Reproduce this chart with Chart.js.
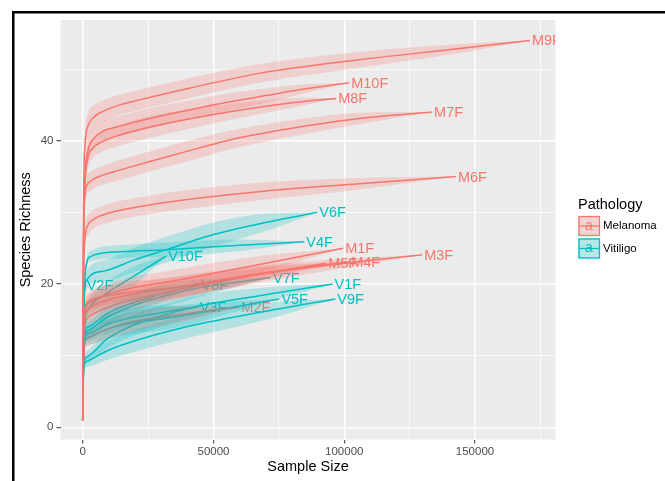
<!DOCTYPE html>
<html>
<head>
<meta charset="utf-8">
<script src="https://cdn.jsdelivr.net/npm/chart.js@4"></script>
<style>
  body { margin: 0; background: #fff; }
  canvas { display: block; }
</style>
</head>
<body>
<canvas id="chart" width="665" height="481"></canvas>
<script>
// rarefaction curves, values
const curveNames = ['M1F', 'M2F', 'M3F', 'M4F', 'M5F', 'M6F', 'M7F', 'M8F', 'M9F', 'M10F',
                    'V1F', 'V2F', 'V3F', 'V4F', 'V5F', 'V6F', 'V7F', 'V8F', 'V9F', 'V10F'];
const curveGroup = ['Melanoma', 'Melanoma', 'Melanoma', 'Melanoma', 'Melanoma',
                    'Melanoma', 'Melanoma', 'Melanoma', 'Melanoma', 'Melanoma',
                    'Vitiligo', 'Vitiligo', 'Vitiligo', 'Vitiligo', 'Vitiligo',
                    'Vitiligo', 'Vitiligo', 'Vitiligo', 'Vitiligo', 'Vitiligo'];

// sample sizes
const curveX = [
    [0, 500, 2000, 10000, 37000, 70000, 99600],
    [0, 500, 2000, 14100, 40000, 59900],
    [0, 500, 2000, 10000, 37000, 80000, 129800],
    [0, 500, 2000, 10000, 37000, 70000, 101900],
    [0, 500, 2000, 10000, 37000, 70000, 93100],
    [0, 300, 900, 2000, 4000, 10000, 25000, 44700, 70100, 105700, 142700],
    [0, 300, 900, 2000, 4000, 7700, 14100, 26700, 44700, 57400, 70100, 82800, 105700, 133600],
    [0, 300, 900, 2000, 4000, 7700, 14100, 26700, 44700, 57400, 70100, 82800, 96900],
    [0, 300, 900, 2000, 4600, 7800, 14100, 20500, 33300, 67500, 105700, 140000, 171000],
    [0, 300, 900, 2000, 4000, 7700, 14000, 26700, 44700, 57400, 70100, 82800, 101900],
    [0, 300, 1500, 10000, 37000, 70000, 95500],
    [0, 200, 760],
    [0, 500, 2000, 10000, 30000, 44000],
    [0, 500, 1500, 2700, 14100, 32000, 60000, 84700],
    [0, 500, 2000, 10000, 37000, 75200],
    [0, 300, 1400, 8000, 20000, 32000, 50000, 70000, 89700],
    [0, 500, 2000, 10000, 37000, 72000],
    [0, 500, 2000, 10000, 30000, 44700],
    [0, 300, 1500, 10000, 37000, 70000, 96600],
    [0, 300, 1900, 8000, 20000, 31900]
];
// species richness
const curveY = [
    [1, 15, 17.2, 18.6, 20.6, 22.9, 25.0],
    [1, 11, 12.5, 14.3, 15.9, 16.8],
    [1, 14, 16.5, 17.8, 19.6, 22.0, 24.1],
    [1, 15, 17.5, 18.4, 19.6, 21.6, 23.1],
    [1, 13, 15.3, 16.8, 19.2, 21.5, 22.9],
    [1, 20, 26.5, 28.2, 29.0, 29.9, 31.0, 32.0, 33.0, 34.0, 35.0],
    [1, 25, 32.5, 34.0, 34.6, 35.2, 35.9, 37.2, 39.0, 40.2, 41.1, 41.9, 43.1, 44.0],
    [1, 25, 34, 37.6, 39.0, 39.9, 40.8, 42.0, 43.3, 44.1, 44.8, 45.4, 45.9],
    [1, 30, 39.5, 42.0, 43.4, 44.1, 45.0, 45.6, 46.7, 49.4, 51.3, 52.7, 54.0],
    [1, 25, 35, 38.6, 40.2, 41.3, 42.0, 43.2, 44.6, 45.5, 46.3, 47.1, 48.1],
    [1, 8.5, 9.8, 12.5, 16.3, 18.5, 20.0],
    [1, 15, 19.9],
    [1, 12, 13, 14.5, 16.0, 16.8],
    [1, 17, 22.9, 23.8, 24.5, 24.8, 25.4, 25.9],
    [1, 11.5, 12.5, 13.8, 15.5, 17.9],
    [1, 15, 20.5, 21.8, 23.4, 24.8, 26.9, 28.6, 30.0],
    [1, 12, 13.5, 15.5, 18.9, 20.9],
    [1, 12.5, 14, 16, 18.6, 19.9],
    [1, 8, 9.2, 10.8, 13.8, 16.2, 17.9],
    [1, 12, 16.4, 18.4, 21.2, 23.9]
];
// half width of the confidence band
const curveCI = [
    [0, 0.8, 1.2, 1.4, 1.5, 1.1, 0],
    [0, 0.8, 1.1, 1.4, 1.0, 0],
    [0, 0.8, 1.2, 1.4, 1.5, 1.0, 0],
    [0, 0.8, 1.2, 1.4, 1.4, 0.9, 0],
    [0, 0.8, 1.2, 1.4, 1.3, 0.8, 0],
    [0, 0.6, 1.2, 1.4, 1.3, 1.3, 1.3, 1.3, 1.2, 0.8, 0],
    [0, 0.6, 1.2, 1.4, 1.3, 1.3, 1.4, 1.4, 1.4, 1.3, 1.2, 1.1, 0.8, 0],
    [0, 0.6, 1.2, 1.5, 1.4, 1.4, 1.5, 1.5, 1.3, 1.1, 0.9, 0.6, 0],
    [0, 0.6, 1.5, 1.8, 1.6, 1.5, 1.4, 1.4, 1.4, 1.3, 1.1, 0.7, 0],
    [0, 0.6, 1.2, 1.5, 1.4, 1.4, 1.4, 1.4, 1.3, 1.2, 1.0, 0.7, 0],
    [0, 0.5, 0.8, 1.3, 1.5, 1.0, 0],
    [0, 0.5, 0],
    [0, 0.8, 1.0, 1.3, 1.0, 0],
    [0, 0.5, 0.6, 0.7, 0.9, 1.0, 0.8, 0],
    [0, 0.8, 1.0, 1.4, 1.5, 0],
    [0, 0.6, 1.2, 1.5, 1.7, 1.8, 1.7, 1.2, 0],
    [0, 0.8, 1.1, 1.4, 1.5, 0],
    [0, 0.8, 1.1, 1.4, 1.1, 0],
    [0, 0.5, 0.8, 1.3, 1.6, 1.2, 0],
    [0, 0.6, 1.2, 1.5, 1.3, 0]
];

const groups = ['Melanoma', 'Vitiligo'];
const lineColors = ['#F8766D', '#00BFC4'];
const bandColors = ['rgba(248,118,109,0.24)', 'rgba(0,191,196,0.24)'];

const xMajor = [0, 50000, 100000, 150000];
const xTickLabels = ['0', '50000', '100000', '150000'];
const xMinor = [25000, 75000, 125000, 175000];
const yMajor = [0, 20, 40];
const yTickLabels = ['0', '20', '40'];
const yMinor = [10, 30, 50];

const fontFam = '"Liberation Sans", Arial, Helvetica, sans-serif';

let datasets = [];

// lines first in the list, drawn under the bands
for (let i = 0; i < curveNames.length; i++) {
    let g = groups.indexOf(curveGroup[i]);
    datasets.push({
        label: curveNames[i],
        data: curveX[i].map((x, j) => ({x: x, y: curveY[i][j]})),
        borderColor: lineColors[g],
        borderWidth: 1.5,
        pointRadius: 0,
        fill: false,
        cubicInterpolationMode: 'monotone',
        order: 2
    });
}
for (let i = 0; i < curveNames.length; i++) {
    let g = groups.indexOf(curveGroup[i]);
    let lowIdx = datasets.length;
    datasets.push({
        label: curveNames[i] + ' lwr',
        data: curveX[i].map((x, j) => ({x: x, y: curveY[i][j] - curveCI[i][j]})),
        borderColor: 'rgba(0,0,0,0)',
        borderWidth: 0,
        pointRadius: 0,
        fill: false,
        cubicInterpolationMode: 'monotone',
        order: 1
    });
    datasets.push({
        label: curveNames[i] + ' upr',
        data: curveX[i].map((x, j) => ({x: x, y: curveY[i][j] + curveCI[i][j]})),
        borderColor: 'rgba(0,0,0,0)',
        borderWidth: 0,
        pointRadius: 0,
        fill: lowIdx,
        backgroundColor: bandColors[g],
        cubicInterpolationMode: 'monotone',
        order: 1
    });
}

const panelBg = {
    id: 'panelBg',
    beforeDraw(chart) {
        const a = chart.chartArea;
        const ctx = chart.ctx;
        ctx.save();
        ctx.fillStyle = '#EBEBEB';
        ctx.fillRect(a.left, a.top, a.right - a.left, a.bottom - a.top);
        ctx.restore();
    }
};

const endLabels = {
    id: 'endLabels',
    beforeDatasetsDraw(chart) {
        const a = chart.chartArea;
        const ctx = chart.ctx;
        const xs = chart.scales.x, ys = chart.scales.y;
        ctx.save();
        ctx.beginPath();
        ctx.rect(a.left, a.top, a.right - a.left, a.bottom - a.top);
        ctx.clip();
        ctx.font = '14.5px ' + fontFam;
        ctx.textBaseline = 'middle';
        ctx.textAlign = 'left';
        for (let i = 0; i < curveNames.length; i++) {
            let n = curveX[i].length - 1;
            let g = groups.indexOf(curveGroup[i]);
            ctx.fillStyle = lineColors[g];
            ctx.fillText(curveNames[i], xs.getPixelForValue(curveX[i][n]) + 2, ys.getPixelForValue(curveY[i][n]) + 1);
        }
        ctx.restore();
    }
};

const legendAndFrame = {
    id: 'legendAndFrame',
    afterDraw(chart) {
        const ctx = chart.ctx;
        ctx.save();
        ctx.fillStyle = '#000';
        ctx.font = '14.5px ' + fontFam;
        ctx.textBaseline = 'middle';
        ctx.fillText('Pathology', 578, 205);
        for (let g = 0; g < groups.length; g++) {
            let top = 216 + g * 22.5;
            ctx.fillStyle = '#F2F2F2';
            ctx.fillRect(578, top, 22, 20);
            ctx.fillStyle = bandColors[g];
            ctx.fillRect(578, top, 22, 20);
            ctx.strokeStyle = lineColors[g];
            ctx.lineWidth = 1.3;
            ctx.strokeRect(579, top + 0.5, 20.5, 19);
            ctx.beginPath();
            ctx.moveTo(579, top + 10);
            ctx.lineTo(599.5, top + 10);
            ctx.stroke();
            ctx.fillStyle = lineColors[g];
            ctx.font = '14px ' + fontFam;
            ctx.textAlign = 'center';
            ctx.fillText('a', 589, top + 10);
            ctx.textAlign = 'left';
            ctx.fillStyle = '#000';
            ctx.font = '11.5px ' + fontFam;
            ctx.fillText(groups[g], 603, top + 10);
        }
        // black frame on top and left
        ctx.fillStyle = '#000';
        ctx.fillRect(12, 11, 653, 2.5);
        ctx.fillRect(12, 11, 2.5, 470);
        ctx.restore();
    }
};

new Chart(document.getElementById('chart'), {
    type: 'line',
    data: {datasets: datasets},
    options: {
        responsive: false,
        animation: false,
        devicePixelRatio: 1,
        layout: {padding: {left: 0, right: 109.5, top: 20, bottom: 0}},
        plugins: {
            legend: {display: false},
            tooltip: {enabled: false},
            filler: {drawTime: 'beforeDatasetDraw'}
        },
        scales: {
            x: {
                type: 'linear',
                min: -8490,
                max: 180780,
                afterBuildTicks: s => { s.ticks = xMajor.concat(xMinor).sort((a, b) => a - b).map(v => ({value: v})); },
                afterFit: s => { s.height = 41.5; },
                border: {display: false},
                grid: {
                    color: '#FFFFFF',
                    lineWidth: c => xMajor.includes(c.tick.value) ? 1.4 : 0.7,
                    tickColor: c => xMajor.includes(c.tick.value) ? '#333333' : 'rgba(0,0,0,0)',
                    tickWidth: 1,
                    tickLength: 4
                },
                ticks: {
                    autoSkip: false,
                    maxRotation: 0,
                    padding: 1,
                    color: '#4D4D4D',
                    font: {family: fontFam, size: 11.5},
                    callback: v => xMajor.includes(v) ? xTickLabels[xMajor.indexOf(v)] : ''
                },
                title: {
                    display: true,
                    text: 'Sample Size',
                    color: '#000',
                    font: {family: fontFam, size: 14.5},
                    padding: {top: 0, bottom: 5}
                }
            },
            y: {
                type: 'linear',
                min: -1.7,
                max: 56.85,
                afterBuildTicks: s => { s.ticks = yMajor.concat(yMinor).sort((a, b) => a - b).map(v => ({value: v})); },
                afterFit: s => { s.width = 60.5; },
                border: {display: false},
                grid: {
                    color: '#FFFFFF',
                    lineWidth: c => yMajor.includes(c.tick.value) ? 1.4 : 0.7,
                    tickColor: c => yMajor.includes(c.tick.value) ? '#333333' : 'rgba(0,0,0,0)',
                    tickWidth: 1,
                    tickLength: 4
                },
                ticks: {
                    autoSkip: false,
                    padding: 3,
                    color: '#4D4D4D',
                    font: {family: fontFam, size: 11.5},
                    callback: v => yMajor.includes(v) ? yTickLabels[yMajor.indexOf(v)] : ''
                },
                title: {
                    display: true,
                    text: 'Species Richness',
                    color: '#000',
                    font: {family: fontFam, size: 14.5},
                    padding: {top: 17.6, bottom: 0}
                }
            }
        }
    },
    plugins: [panelBg, endLabels, legendAndFrame]
});
</script>
</body>
</html>
